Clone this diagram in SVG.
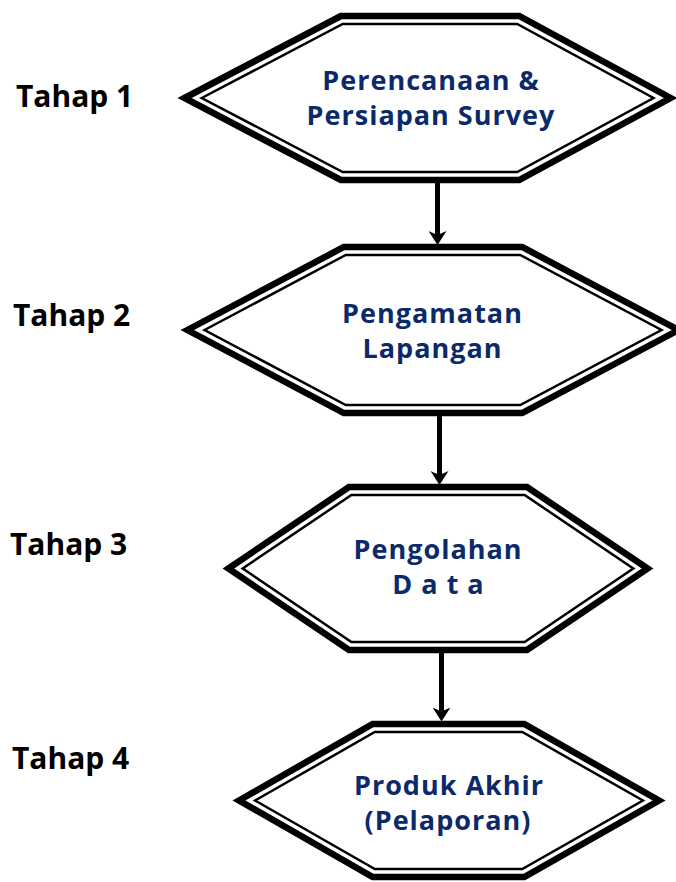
<svg xmlns="http://www.w3.org/2000/svg" width="676" height="882" viewBox="0 0 676 882">
<style>
.outer{fill:#fff;stroke:#000;stroke-width:6.5;stroke-linejoin:miter;stroke-miterlimit:10}
.inner{fill:none;stroke:#000;stroke-width:2.5;stroke-linejoin:miter;stroke-miterlimit:10}
.lbl{font-family:"Open Sans","Liberation Sans",sans-serif;font-weight:bold;font-size:30px;fill:#000}
.nt{font-family:"Open Sans","Liberation Sans",sans-serif;font-weight:bold;font-size:27px;fill:#0C2A6A;letter-spacing:1px;text-anchor:middle}
.conn{stroke:#000;stroke-width:5;fill:none}
</style>
<defs>
<marker id="ah" markerUnits="userSpaceOnUse" viewBox="0 0 14 18" markerWidth="14" markerHeight="18" refX="4" refY="9" orient="auto">
<path d="M0,0 L14,9 L0,18 L4,9 Z" fill="#000"/>
</marker>
</defs>
<rect width="676" height="882" fill="#fff"/>
<g id="labels">
<text class="lbl" x="16" y="107">Tahap 1</text>
<text class="lbl" x="13" y="326">Tahap 2</text>
<text class="lbl" x="10" y="555">Tahap 3</text>
<text class="lbl" x="12" y="769">Tahap 4</text>
</g>
<g id="node1">
<path class="outer" d="M184.5,98 L340.8,16 L519.2,16 L670.5,98 L519.2,180 L340.8,180 Z"/>
<path class="inner" d="M201.7,98 L342.7,24 L517.2,24 L653.5,98 L517.2,172 L342.7,172 Z"/>
<text class="nt" x="431" y="89.5">Perencanaan &amp;</text>
<text class="nt" x="431" y="125">Persiapan Survey</text>
</g>
<g id="node2">
<path class="outer" d="M187.4,330 L343.8,247 L522.2,247 L678.6,330 L522.2,413 L343.8,413 Z"/>
<path class="inner" d="M204.5,330 L345.8,255 L520.2,255 L661.5,330 L520.2,405 L345.8,405 Z"/>
<text class="nt" x="432.5" y="322.7">Pengamatan</text>
<text class="nt" x="432.5" y="358.3">Lapangan</text>
</g>
<g id="node3">
<path class="outer" d="M228.4,568.5 L349,487 L527,487 L647.6,568.5 L527,650 L349,650 Z"/>
<path class="inner" d="M242.7,568.5 L351.4,495 L524.6,495 L633.3,568.5 L524.6,642 L351.4,642 Z"/>
<text class="nt" x="438" y="559.3">Pengolahan</text>
<text class="nt" x="438.5" y="594">D a t a</text>
</g>
<g id="node4">
<path class="outer" d="M239,800.5 L372.7,724 L524.3,724 L659,800.5 L524.3,877 L372.7,877 Z"/>
<path class="inner" d="M255.1,800.5 L374.8,732 L522.3,732 L642.9,800.5 L522.3,869 L374.8,869 Z"/>
<text class="nt" x="449" y="795">Produk Akhir</text>
<text class="nt" x="448" y="830">(Pelaporan)</text>
</g>
<g id="connectors">
<line class="conn" x1="437.5" y1="183" x2="437.5" y2="235" marker-end="url(#ah)"/>
<line class="conn" x1="439.5" y1="416" x2="439.5" y2="475" marker-end="url(#ah)"/>
<line class="conn" x1="441.5" y1="653" x2="441.5" y2="711.5" marker-end="url(#ah)"/>
</g>
</svg>
